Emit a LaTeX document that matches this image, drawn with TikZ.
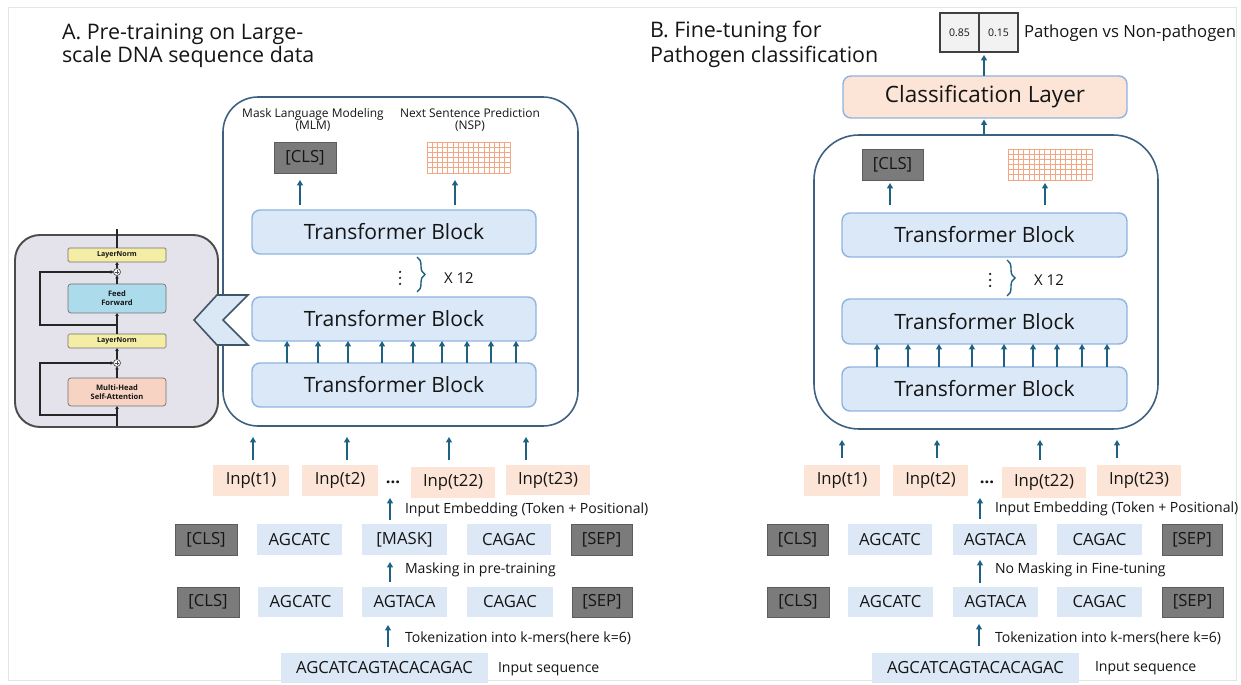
\documentclass[tikz,border=0pt]{standalone}
\usepackage{fontspec}
\setmainfont{Open Sans}
\usetikzlibrary{arrows.meta,calc,decorations.pathreplacing}

\definecolor{ink}{HTML}{151515}
\definecolor{tbfill}{HTML}{DAE8F7}
\definecolor{tbdraw}{HTML}{8DB4E2}
\definecolor{tokfill}{HTML}{DCE8F6}
\definecolor{peach}{HTML}{FCE4D6}
\definecolor{darkfill}{HTML}{7B7B7B}
\definecolor{darkdraw}{HTML}{5C5C5C}
\definecolor{arrc}{HTML}{1F6182}
\definecolor{contc}{HTML}{3D6080}
\definecolor{gridc}{HTML}{F4A582}
\definecolor{insetfill}{HTML}{E4E2EA}
\definecolor{lnfill}{HTML}{F3EDA5}
\definecolor{fffill}{HTML}{ACDCEC}
\definecolor{mhafill}{HTML}{F6D3C3}
\definecolor{chevfill}{HTML}{DAE8F5}
\definecolor{chevdraw}{HTML}{3D5566}

\begin{document}
\begin{tikzpicture}[x=0.02cm,y=-0.02cm,
  every node/.style={inner sep=0pt,outer sep=0pt,text=ink},
  sz/.style 2 args={minimum width=#1*0.02cm,minimum height=#2*0.02cm},
  tb/.style={draw=tbdraw,fill=tbfill,line width=0.8pt,rounded corners=0.16cm,
    font=\fontsize{12}{12}\selectfont},
  tok/.style={fill=tokfill,font=\fontsize{9.5}{10}\selectfont},
  dark/.style={fill=darkfill,draw=darkdraw,line width=0.5pt,font=\fontsize{9.5}{10}\selectfont},
  inp/.style={fill=peach,font=\fontsize{9.5}{10}\selectfont},
  lab/.style={anchor=west,font=\fontsize{8}{9}\selectfont},
  ttl/.style={anchor=base west,font=\fontsize{12.2}{13}\selectfont},
  arr/.style={draw=arrc,line width=0.75pt,-{Triangle[length=0.11cm,width=0.12cm]}},
  cont/.style={draw=contc,line width=0.9pt},
  ln/.style={fill=lnfill,draw=black!55,line width=0.4pt,rounded corners=0.03cm,
    font=\fontsize{4}{4.5}\selectfont\bfseries},
  sub/.style={draw=black!55,line width=0.4pt,rounded corners=0.06cm,align=center,
    font=\fontsize{4.3}{5}\selectfont\bfseries},
  iarr/.style={draw=black!85,line width=0.6pt,-{Triangle[length=0.06cm,width=0.07cm]}},
  plus/.style={circle,draw=black!70,line width=0.4pt,fill=white,minimum size=0.14cm},
  brc/.style={draw=arrc,line width=0.8pt,decorate,decoration={brace,amplitude=0.16cm}},
  grd/.style={draw=gridc,line width=0.5pt},
  vdot/.style={fill=ink}
]
\useasboundingbox (0,0) rectangle (1241,685);
\fill[white] (0,0) rectangle (1241,685);
\draw[black!10,line width=0.4pt] (8,7) rectangle (1236,680);

% ---------------- Panel A: pre-training ----------------
\node[ttl] (titleA1) at (62,40) {A. Pre-training on Large-};
\node[ttl] (titleA2) at (62,63) {scale DNA sequence data};

\node[cont,rounded corners=0.7cm,sz={355}{329}] (contA) at (400.5,261.5) {};

\node[align=center,font=\fontsize{6.8}{7}\selectfont] (mlm) at (313,120) {Mask Language Modeling\\(MLM)};
\node[align=center,font=\fontsize{6.8}{7}\selectfont] (nsp) at (470,120) {Next Sentence Prediction\\(NSP)};

\node[dark,sz={62}{31}] (clsA) at (305,157.5) {[CLS]};
\node[sz={83}{31}] (gridA) at (468.5,157.5) {};
\foreach \i in {0,...,16}
  \draw[grd] ($(gridA.north west)!\i/16!(gridA.north east)$) -- ($(gridA.south west)!\i/16!(gridA.south east)$);
\foreach \j in {0,...,6}
  \draw[grd] ($(gridA.north west)!\j/6!(gridA.south west)$) -- ($(gridA.north east)!\j/6!(gridA.south east)$);

\node[tb,sz={284}{44}] (TB1A) at (394,232) {Transformer Block};
\node[tb,sz={284}{44}] (TB2A) at (394,319) {Transformer Block};
\node[tb,sz={284}{44}] (TB3A) at (394,385) {Transformer Block};

\draw[arr,shorten <=0.1cm,shorten >=0.14cm] (TB1A.north -| 300,0) -- (clsA.south -| 300,0);
\draw[arr,shorten <=0.1cm,shorten >=0.14cm] (TB1A.north -| 455,0) -- (gridA.south -| 455,0);

% repetition marker: vertical dots, brace and count
\foreach \y in {272,278,284} \fill[vdot] (400,\y) circle (0.025cm);
\coordinate (brAt) at (417,257);
\coordinate (brAb) at (417,292);
\draw[brc] (brAt) -- (brAb);
\node[font=\fontsize{8.5}{9}\selectfont] (x12A) at (459,278) {X 12};

\foreach \x in {287,318,348,382,413,442,467,491,516}
  \draw[arr] (TB3A.north -| \x,0) -- (TB2A.south -| \x,0);

\node[inp,sz={76}{31}] (i1A) at (251,480.5) {Inp(t1)};
\node[inp,sz={76}{31}] (i2A) at (340,480.5) {Inp(t2)};
\node[font=\fontsize{9.5}{10}\selectfont\bfseries] (idA) at (393,482) {...};
\node[inp,sz={84}{31}] (i22A) at (453,482.5) {Inp(t22)};
\node[inp,sz={84}{30}] (i23A) at (548,480) {Inp(t23)};

\draw[arr,shorten <=0.1cm,shorten >=0.22cm] (i1A.north -| 253,0) -- (contA.south -| 253,0);
\draw[arr,shorten <=0.1cm,shorten >=0.22cm] (i2A.north -| 347,0) -- (contA.south -| 347,0);
\draw[arr,shorten <=0.1cm,shorten >=0.22cm] (i23A.north -| 449,0) -- (contA.south -| 449,0);
\draw[arr,shorten <=0.1cm,shorten >=0.22cm] (i23A.north -| 526,0) -- (contA.south -| 526,0);

\node[dark,sz={62}{31}] (c1A) at (206,539.5) {[CLS]};
\node[tok,sz={85}{31}] (a1A) at (299.5,539.5) {AGCATC};
\node[tok,sz={85}{31}] (m1A) at (404.5,539.5) {[MASK]};
\node[tok,sz={84}{31}] (g1A) at (509,539.5) {CAGAC};
\node[dark,sz={61}{31}] (s1A) at (601.5,539.5) {[SEP]};

\draw[arr,shorten <=0.08cm] (m1A.north -| 390,0) -- (i22A.south -| 390,0);
\node[lab] (embA) at (405,510) {Input Embedding (Token + Positional)};

\node[dark,sz={62}{30}] (c2A) at (208,602) {[CLS]};
\node[tok,sz={85}{30}] (a2A) at (300.5,602) {AGCATC};
\node[tok,sz={85}{30}] (t2A) at (404.5,602) {AGTACA};
\node[tok,sz={86}{30}] (g2A) at (510,602) {CAGAC};
\node[dark,sz={60}{30}] (s2A) at (602,602) {[SEP]};

\draw[arr,shorten <=0.1cm,shorten >=0.14cm] (t2A.north -| 390,0) -- (m1A.south -| 390,0);
\node[lab] (maskA) at (405,570) {Masking in pre-training};

\node[tok,sz={207}{30}] (seqA) at (384.5,668) {AGCATCAGTACACAGAC};
\draw[arr,shorten <=0.12cm,shorten >=0.16cm] (seqA.north -| 388,0) -- (t2A.south -| 388,0);
\node[lab] (tokA) at (405,638) {Tokenization into k-mers(here k=6)};
\node[lab] (inA) at (498,669) {Input sequence};

% ---------------- Transformer block internals ----------------
\node[draw=black!70,fill=insetfill,line width=1.1pt,rounded corners=0.5cm,sz={203}{192}] (inset) at (116.5,331) {};
\node[ln,sz={98}{14}] (ln1) at (117,255) {LayerNorm};
\node[plus] (pl1) at (117,272) {};
\node[sub,fill=fffill,sz={98}{29}] (ff) at (117,298.5) {Feed\\Forward};
\node[ln,sz={98}{14}] (ln2) at (117,341) {LayerNorm};
\node[plus] (pl2) at (117,363) {};
\node[sub,fill=mhafill,sz={98}{28}] (mha) at (117,392) {Multi-Head\\Self-Attention};
\foreach \p in {pl1,pl2} {
  \draw[black!70,line width=0.4pt] ([xshift=-0.045cm]\p.center) -- ([xshift=0.045cm]\p.center);
  \draw[black!70,line width=0.4pt] ([yshift=-0.045cm]\p.center) -- ([yshift=0.045cm]\p.center);
}
\coordinate (ibot) at (117,426);
\coordinate (itop) at (117,229);
\coordinate (r1) at (117,325);
\coordinate (r2) at (117,415);
\draw[iarr] (ibot) -- (mha);
\draw[iarr] (mha) -- (pl2);
\draw[iarr] (pl2) -- (ln2);
\draw[iarr] (ln2) -- (ff);
\draw[iarr] (ff) -- (pl1);
\draw[iarr] (pl1) -- (ln1);
\draw[draw=black!85,line width=0.6pt] (ln1) -- (itop);
\draw[iarr] (r1) -- ++(-77,0) |- (pl1);
\draw[iarr] (r2) -- ++(-77,0) |- (pl2);

% expansion marker pointing at the block
\draw[fill=chevfill,draw=chevdraw,line width=0.9pt,line join=miter]
  (217,295) -- (248,295) -- (223,320) -- (248,345) -- (217,345) -- (194,320) -- cycle;

% ---------------- Panel B: fine-tuning ----------------
\node[ttl] (titleB1) at (650,38) {B. Fine-tuning for};
\node[ttl] (titleB2) at (650,63) {Pathogen classification};

\node[fill=black!5,draw=black!75,line width=0.6pt,sz={39}{39},font=\fontsize{6}{6}\selectfont] (p1) at (959.5,32.5) {0.85};
\node[fill=black!5,draw=black!75,line width=0.6pt,sz={39}{39},font=\fontsize{6}{6}\selectfont] (p2) at (998.5,32.5) {0.15};
\node[anchor=west,font=\fontsize{9.5}{10}\selectfont] (pvn) at (1024,33) {Pathogen vs Non-pathogen};

\node[tb,fill=peach,sz={284}{42},font=\fontsize{12.8}{13}\selectfont] (clsL) at (985,97) {Classification Layer};
\draw[arr,shorten >=0.06cm] (clsL.north -| 984,0) -- (p2.south -| 984,0);

\node[cont,rounded corners=0.9cm,sz={344}{294}] (contB) at (986,282) {};
\draw[arr,shorten >=0.03cm] (contB.north -| 984,0) -- (clsL.south -| 984,0);

\node[dark,sz={61}{31}] (clsB) at (892.5,164.5) {[CLS]};
\node[sz={84}{31}] (gridB) at (1050,164.5) {};
\foreach \i in {0,...,16}
  \draw[grd] ($(gridB.north west)!\i/16!(gridB.north east)$) -- ($(gridB.south west)!\i/16!(gridB.south east)$);
\foreach \j in {0,...,6}
  \draw[grd] ($(gridB.north west)!\j/6!(gridB.south west)$) -- ($(gridB.north east)!\j/6!(gridB.south east)$);

\node[tb,sz={285}{44}] (TB1B) at (984.5,235) {Transformer Block};
\node[tb,sz={285}{45}] (TB2B) at (984.5,321.5) {Transformer Block};
\node[tb,sz={285}{44}] (TB3B) at (984.5,389) {Transformer Block};

\draw[arr,shorten <=0.16cm,shorten >=0.06cm] (TB1B.north -| 890,0) -- (clsB.south -| 890,0);
\draw[arr,shorten <=0.16cm,shorten >=0.06cm] (TB1B.north -| 1045,0) -- (gridB.south -| 1045,0);

\foreach \y in {274,280,286} \fill[vdot] (990,\y) circle (0.025cm);
\coordinate (brBt) at (1007,260);
\coordinate (brBb) at (1007,296);
\draw[brc] (brBt) -- (brBb);
\node[font=\fontsize{8.5}{9}\selectfont] (x12B) at (1049,280) {X 12};

\foreach \x in {877,908,939,972,1004,1033,1057,1082,1107}
  \draw[arr] (TB3B.north -| \x,0) -- (TB2B.south -| \x,0);

\node[inp,sz={76}{31}] (i1B) at (842,480.5) {Inp(t1)};
\node[inp,sz={75}{31}] (i2B) at (930.5,480.5) {Inp(t2)};
\node[font=\fontsize{9.5}{10}\selectfont\bfseries] (idB) at (987,482) {...};
\node[inp,sz={84}{31}] (i22B) at (1044,482.5) {Inp(t22)};
\node[inp,sz={84}{31}] (i23B) at (1139,480.5) {Inp(t23)};

\draw[arr,shorten <=0.14cm,shorten >=0.22cm] (i1B.north -| 842,0) -- (contB.south -| 842,0);
\draw[arr,shorten <=0.14cm,shorten >=0.22cm] (i2B.north -| 937,0) -- (contB.south -| 937,0);
\draw[arr,shorten <=0.14cm,shorten >=0.22cm] (i22B.north -| 1040,0) -- (contB.south -| 1040,0);
\draw[arr,shorten <=0.14cm,shorten >=0.22cm] (i23B.north -| 1117,0) -- (contB.south -| 1117,0);

\node[dark,sz={61}{31}] (c1B) at (797.5,539.5) {[CLS]};
\node[tok,sz={84}{31}] (a1B) at (890,539.5) {AGCATC};
\node[tok,sz={84}{31}] (t1B) at (995,539.5) {AGTACA};
\node[tok,sz={85}{31}] (g1B) at (1099.5,539.5) {CAGAC};
\node[dark,sz={60}{31}] (s1B) at (1192,539.5) {[SEP]};

\draw[arr,shorten <=0.1cm] (t1B.north -| 980,0) -- (i22B.south -| 980,0);
\node[lab] (embB) at (995,509) {Input Embedding (Token + Positional)};

\node[dark,sz={62}{30}] (c2B) at (798,602) {[CLS]};
\node[tok,sz={85}{30}] (a2B) at (890.5,602) {AGCATC};
\node[tok,sz={85}{30}] (t2B) at (995.5,602) {AGTACA};
\node[tok,sz={85}{30}] (g2B) at (1099.5,602) {CAGAC};
\node[dark,sz={61}{30}] (s2B) at (1192.5,602) {[SEP]};

\draw[arr,shorten <=0.08cm,shorten >=0.1cm] (t2B.north -| 980,0) -- (t1B.south -| 980,0);
\node[lab] (nomB) at (995,570) {No Masking in Fine-tuning};

\node[tok,sz={207}{30}] (seqB) at (975.5,668) {AGCATCAGTACACAGAC};
\draw[arr,shorten <=0.14cm,shorten >=0.14cm] (seqB.north -| 979,0) -- (t2B.south -| 979,0);
\node[lab] (tokB) at (995,638) {Tokenization into k-mers(here k=6)};
\node[lab] (inB) at (1095,668) {Input sequence};
\end{tikzpicture}
\end{document}
